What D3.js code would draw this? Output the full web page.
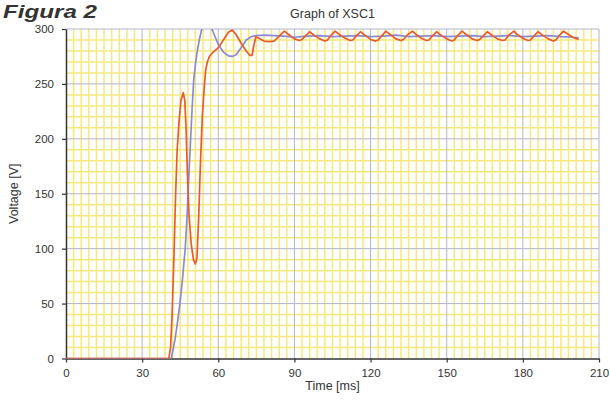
<!DOCTYPE html>
<html>
<head>
<meta charset="utf-8">
<script src="https://cdn.jsdelivr.net/npm/d3@7"></script>
<style>
  body { margin: 0; background: #fff; }
  svg { display: block; }
  text { font-family: "Liberation Sans", Arial, sans-serif; fill: #333; }
</style>
</head>
<body>
<svg id="chart" width="610" height="401"></svg>
<script>
// Axis ticks
const xTicks = [0, 30, 60, 90, 120, 150, 180, 210];
const yTicks = [0, 50, 100, 150, 200, 250, 300];

// Channel A (orange-red trace): time [ms] and voltage [V]
const timeA = [0, 40.5, 41.2, 41.8, 42.5, 43.2, 43.8, 44.5, 45.3, 46.2, 46.8, 47.3, 47.8, 48.5, 49.3, 50.2, 51.0, 51.6, 52.3, 53.0, 53.7, 54.4, 55.0, 55.7, 56.5, 58, 60, 62, 64, 65.5, 67, 69, 71, 72.5, 73.3, 74, 74.8, 76, 78, 80, 82, 84,
  86, 88, 90, 92, 93, 94.5, 96, 98, 100, 102, 103, 104.5, 106, 108, 110, 112, 113, 114.5, 116, 118, 120, 122, 123, 124.5,
  126, 128, 130, 132, 133, 134.5, 136.5, 138, 140, 142, 143, 144.5, 146, 148, 150, 152, 153, 154.5, 156, 158, 160, 162, 163, 164.5,
  166, 168, 170, 172, 173, 174.5, 176.5, 178, 180, 182, 183, 184.5, 186, 188, 190, 192, 193, 194.5, 196, 198, 200, 202];
const voltA = [0, 0, 10, 40, 90, 150, 190, 215, 235, 242, 235, 210, 170, 130, 105, 90, 86, 92, 130, 180, 220, 245, 262, 270, 275, 279, 283, 290, 297, 299, 295, 287, 280, 276, 276, 285, 293, 291.5, 289, 288.5, 289, 293.5,
  298, 294.5, 291, 289.5, 290.5, 294, 297.5, 294, 291, 289, 290, 294.5, 298, 294.5, 291.5, 289.5, 290, 294, 297.5, 294, 290.5, 289, 290, 294,
  298, 294.5, 291, 289.5, 290.5, 294.5, 298, 295, 291.5, 289.5, 290, 294, 297.5, 294, 291, 289, 290, 294.5, 298, 294.5, 291, 289.5, 290.5, 294,
  297.5, 294, 291, 289.5, 290, 294.5, 298, 294.5, 291.5, 289.5, 290, 294, 297.5, 294, 291, 289, 290, 294.5, 298, 295, 292, 290.5];

// Channel B (blue trace)
const timeB = [0, 41.5, 43, 44, 45, 46, 47, 47.7, 48.3, 49, 49.7, 50.3, 51, 51.6, 52.5, 53.5, 55, 57, 58, 60, 62, 64, 65.5, 67, 69, 71, 73, 75, 78, 82, 86, 90, 95, 100,
  105, 110, 115, 120, 125, 130, 135, 140, 145, 150, 155, 160, 165, 170, 175, 180, 185, 190, 195, 200, 202];
const voltB = [0, 0, 18, 34, 52, 75, 101, 130, 162, 195, 228, 253, 268, 278, 290, 300, 304, 303, 297, 286, 279, 275.5, 275, 276.5, 283, 290, 293, 294, 294.5, 294, 293.5, 292.5, 293.5, 294,
  293, 293.5, 294, 293, 293.5, 294.5, 293, 293.5, 294, 293, 293.5, 294, 293, 293.5, 294, 293, 293.5, 294, 293, 292.5, 292];

const svg = d3.select("#chart");
const margin = { left: 66, top: 29, right: 11, bottom: 42.5 };
const W = 610, H = 401;
const x = d3.scaleLinear().domain([0, 210]).range([margin.left, W - margin.right]);
const y = d3.scaleLinear().domain([0, 300]).range([H - margin.bottom, margin.top]);

svg.append("defs").append("clipPath").attr("id", "plot-clip")
  .append("rect")
  .attr("x", x(0)).attr("y", y(300))
  .attr("width", x(210) - x(0)).attr("height", y(0) - y(300));

// Fine yellow grid: 3 ms by 10 V
const grid = svg.append("g");
grid.selectAll("line.minor-x")
  .data(d3.range(3, 210, 3).filter(v => v % 30 !== 0))
  .join("line")
  .attr("x1", d => x(d)).attr("x2", d => x(d))
  .attr("y1", y(300)).attr("y2", y(0))
  .attr("stroke", "#f5e97e").attr("stroke-width", 1.5);
grid.selectAll("line.minor-y")
  .data(d3.range(10, 300, 10).filter(v => v % 50 !== 0))
  .join("line")
  .attr("x1", x(0)).attr("x2", x(210))
  .attr("y1", d => y(d)).attr("y2", d => y(d))
  .attr("stroke", "#f5e97e").attr("stroke-width", 1.5);

// Major grid on the tick values
grid.selectAll("line.major-x")
  .data(xTicks.slice(1))
  .join("line")
  .attr("x1", d => x(d)).attr("x2", d => x(d))
  .attr("y1", y(300)).attr("y2", y(0))
  .attr("stroke", "#b4b4cc").attr("stroke-width", 1);
grid.selectAll("line.major-y")
  .data(yTicks.slice(1))
  .join("line")
  .attr("x1", x(0)).attr("x2", x(210))
  .attr("y1", d => y(d)).attr("y2", d => y(d))
  .attr("stroke", "#b4b4cc").attr("stroke-width", 1);

// Axes
const xAxis = svg.append("g")
  .attr("transform", `translate(0,${y(0)})`)
  .call(d3.axisBottom(x).tickValues(xTicks).tickSize(4).tickPadding(6).tickSizeOuter(0));
const yAxis = svg.append("g")
  .attr("transform", `translate(${x(0)},0)`)
  .call(d3.axisLeft(y).tickValues(yTicks).tickSize(4).tickPadding(8).tickSizeOuter(0));
[xAxis, yAxis].forEach(a => {
  a.select(".domain").attr("stroke", "#333").attr("stroke-width", 1.5);
  a.selectAll(".tick line").attr("stroke", "#333").attr("stroke-width", 1.2);
  a.selectAll(".tick text").attr("font-size", 11.5).attr("fill", "#333")
    .attr("font-family", "'Liberation Sans', Arial, sans-serif");
});

// Traces
const plot = svg.append("g").attr("clip-path", "url(#plot-clip)");
const line = d3.line().x(d => x(d[0])).y(d => y(d[1]));
plot.append("path")
  .datum(d3.zip(timeB, voltB))
  .attr("d", line)
  .attr("fill", "none").attr("stroke", "#8a8ad2").attr("stroke-width", 1.7)
  .attr("stroke-linejoin", "round");
plot.append("path")
  .datum(d3.zip(timeA, voltA))
  .attr("d", line)
  .attr("fill", "none").attr("stroke", "#ec5a2c").attr("stroke-width", 1.7)
  .attr("stroke-linejoin", "round");

// Titles
svg.append("text")
  .attr("x", (x(0) + x(210)) / 2).attr("y", 18)
  .attr("text-anchor", "middle").attr("font-size", 12.5).attr("fill", "#222")
  .text("Graph of XSC1");
svg.append("text")
  .attr("x", (x(0) + x(210)) / 2).attr("y", 390)
  .attr("text-anchor", "middle").attr("font-size", 12.5).attr("fill", "#222")
  .text("Time [ms]");
svg.append("text")
  .attr("transform", `translate(18,${(y(0) + y(300)) / 2}) rotate(-90)`)
  .attr("text-anchor", "middle").attr("font-size", 12.5).attr("fill", "#222")
  .text("Voltage [V]");
svg.append("text")
  .attr("x", 3).attr("y", 17.5)
  .attr("font-size", 19).attr("font-weight", "bold").attr("font-style", "italic")
  .attr("textLength", 94).attr("lengthAdjust", "spacingAndGlyphs")
  .attr("fill", "#1a1a1a")
  .text("Figura 2");
</script>
</body>
</html>
